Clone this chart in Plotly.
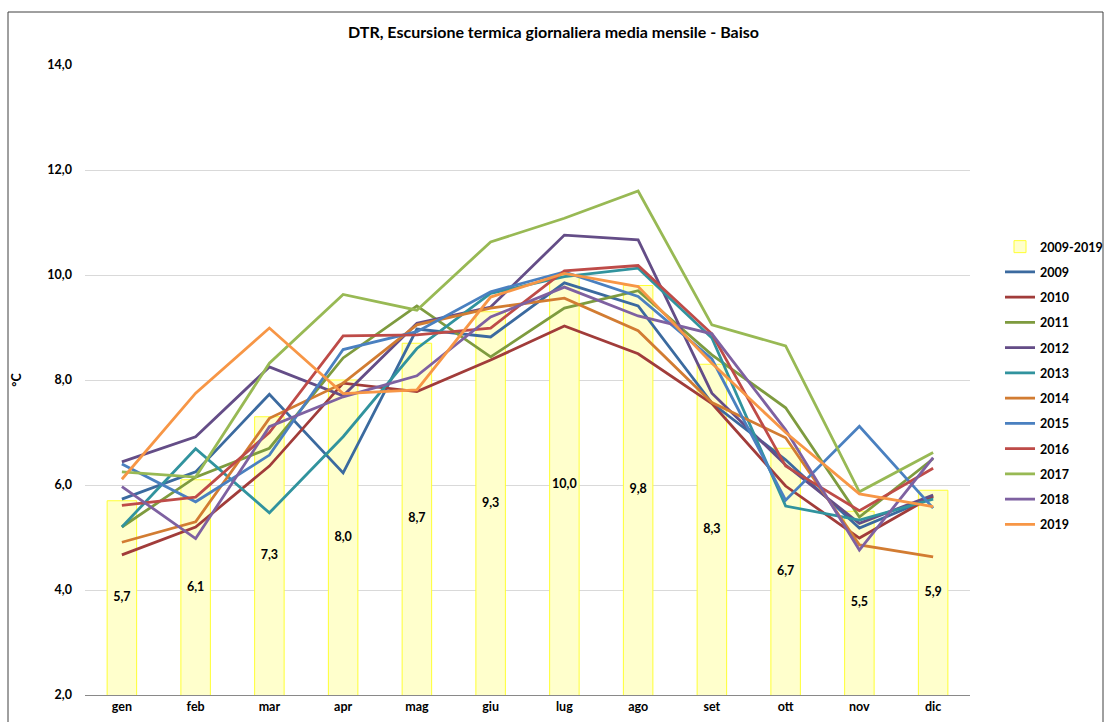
import plotly.graph_objects as go

months = ["gen", "feb", "mar", "apr", "mag", "giu", "lug", "ago", "set", "ott", "nov", "dic"]
avg_2009_2019 = [5.7, 6.1, 7.3, 8.0, 8.7, 9.3, 10.0, 9.8, 8.3, 6.7, 5.5, 5.9]

y2009 = [5.73, 6.25, 7.73, 6.23, 8.97, 8.82, 9.85, 9.41, 7.56, 6.48, 5.18, 5.77]
y2010 = [4.67, 5.20, 6.36, 7.94, 7.78, 8.38, 9.03, 8.50, 7.55, 5.98, 4.99, 5.79]
y2011 = [5.20, 6.15, 6.70, 8.42, 9.41, 8.44, 9.37, 9.70, 8.48, 7.47, 5.39, 6.50]
y2012 = [6.44, 6.92, 8.25, 7.70, 9.08, 9.39, 10.76, 10.67, 7.75, 6.38, 5.27, 5.81]
y2013 = [5.20, 6.69, 5.47, 6.92, 8.60, 9.65, 9.97, 10.13, 8.80, 5.60, 5.33, 5.73]
y2014 = [4.91, 5.30, 7.27, 7.94, 9.05, 9.37, 9.56, 8.94, 7.57, 6.90, 4.86, 4.63]
y2015 = [6.40, 5.68, 6.57, 8.58, 8.92, 9.68, 10.06, 9.59, 8.40, 5.71, 7.12, 5.56]
y2016 = [5.61, 5.77, 7.00, 8.84, 8.86, 8.99, 10.08, 10.18, 8.88, 6.36, 5.51, 6.32]
y2017 = [6.25, 6.15, 8.32, 9.63, 9.33, 10.63, 11.08, 11.60, 9.05, 8.65, 5.87, 6.62]
y2018 = [5.97, 4.98, 7.11, 7.68, 8.08, 9.20, 9.77, 9.22, 8.88, 7.05, 4.76, 6.52]
y2019 = [6.11, 7.75, 8.99, 7.74, 7.81, 9.58, 10.03, 9.78, 8.32, 7.00, 5.83, 5.59]

series_names = ["2009", "2010", "2011", "2012", "2013", "2014", "2015", "2016", "2017", "2018", "2019"]
series_values = [y2009, y2010, y2011, y2012, y2013, y2014, y2015, y2016, y2017, y2018, y2019]
series_colors = ["#3B6A9F", "#A13C3A", "#7E9B3F", "#644D87", "#31939E", "#D27C32",
                 "#4A80C0", "#BE4B48", "#98B954", "#7E61A1", "#F79646"]

y_min, y_max = 2.0, 14.0
tick_vals = [2.0, 4.0, 6.0, 8.0, 10.0, 12.0, 14.0]

FONT = "Lato"

fig = go.Figure()

fig.add_trace(go.Bar(
    x=months, y=avg_2009_2019, name="2009-2019",
    marker=dict(color="#FFFFCC", line=dict(color="#FFFF33", width=1)),
    width=0.4, hoverinfo="x+y",
))

# labels at the middle of the visible bar
fig.add_trace(go.Scatter(
    x=months, y=[(v + y_min) / 2 for v in avg_2009_2019],
    mode="text", text=[f"{v:.1f}".replace(".", ",") for v in avg_2009_2019],
    textfont=dict(family=FONT, size=12.5, color="#000000", weight="bold"),
    showlegend=False, hoverinfo="skip",
))

for name, vals, col in zip(series_names, series_values, series_colors):
    fig.add_trace(go.Scatter(
        x=months, y=vals, name=name, mode="lines",
        line=dict(color=col, width=2.8),
        legendgroup=name,
    ))

fig.update_layout(
    width=1107, height=722,
    paper_bgcolor="white", plot_bgcolor="white",
    separators=",.",
    margin=dict(l=85, r=137, t=65, b=27, autoexpand=False),
    title=dict(text="<b>DTR, Escursione termica giornaliera media mensile - Baiso</b>",
               x=0.5, xanchor="center", xref="container", y=0.955, yanchor="middle",
               font=dict(family=FONT, size=16, color="#000000")),
    font=dict(family=FONT, size=12, color="#000000"),
    legend=dict(x=1000 / 1107, y=1 - 232 / 722, xref="container", yref="container",
                xanchor="left", yanchor="top",
                font=dict(family=FONT, size=12.5, color="#000000", weight="bold"),
                tracegroupgap=6, bgcolor="rgba(0,0,0,0)"),
    barmode="overlay",
    showlegend=True,
)

fig.update_xaxes(
    type="category", range=[-0.5, len(months) - 0.5],
    showgrid=False, showline=True, linecolor="#898989", linewidth=1,
    ticks="", tickfont=dict(family=FONT, size=12.5, color="#000000", weight="bold"),
    fixedrange=True, automargin=False,
)
fig.update_yaxes(
    range=[y_min, y_max], tickvals=tick_vals, tickformat=".1f",
    showgrid=True, gridcolor="#D9D9D9", gridwidth=1, zeroline=False,
    showline=False, ticks="", ticklabelstandoff=12, automargin=False,
    tickfont=dict(family=FONT, size=12.5, color="#000000", weight="bold"),
    title=dict(text="<b>°C</b>", standoff=22, font=dict(family=FONT, size=12.5, color="#000000")),
)

# chart border
fig.add_shape(type="rect", xref="paper", yref="paper",
              x0=(8 - 85) / 885, x1=(1103 - 85) / 885,
              y0=(695 - 730) / 630, y1=(695 - 12) / 630,
              line=dict(color="#404040", width=1), fillcolor="rgba(0,0,0,0)", layer="below")

fig.write_html("out.html", config={"displayModeBar": False},
               post_script="document.body.style.margin='0';")
